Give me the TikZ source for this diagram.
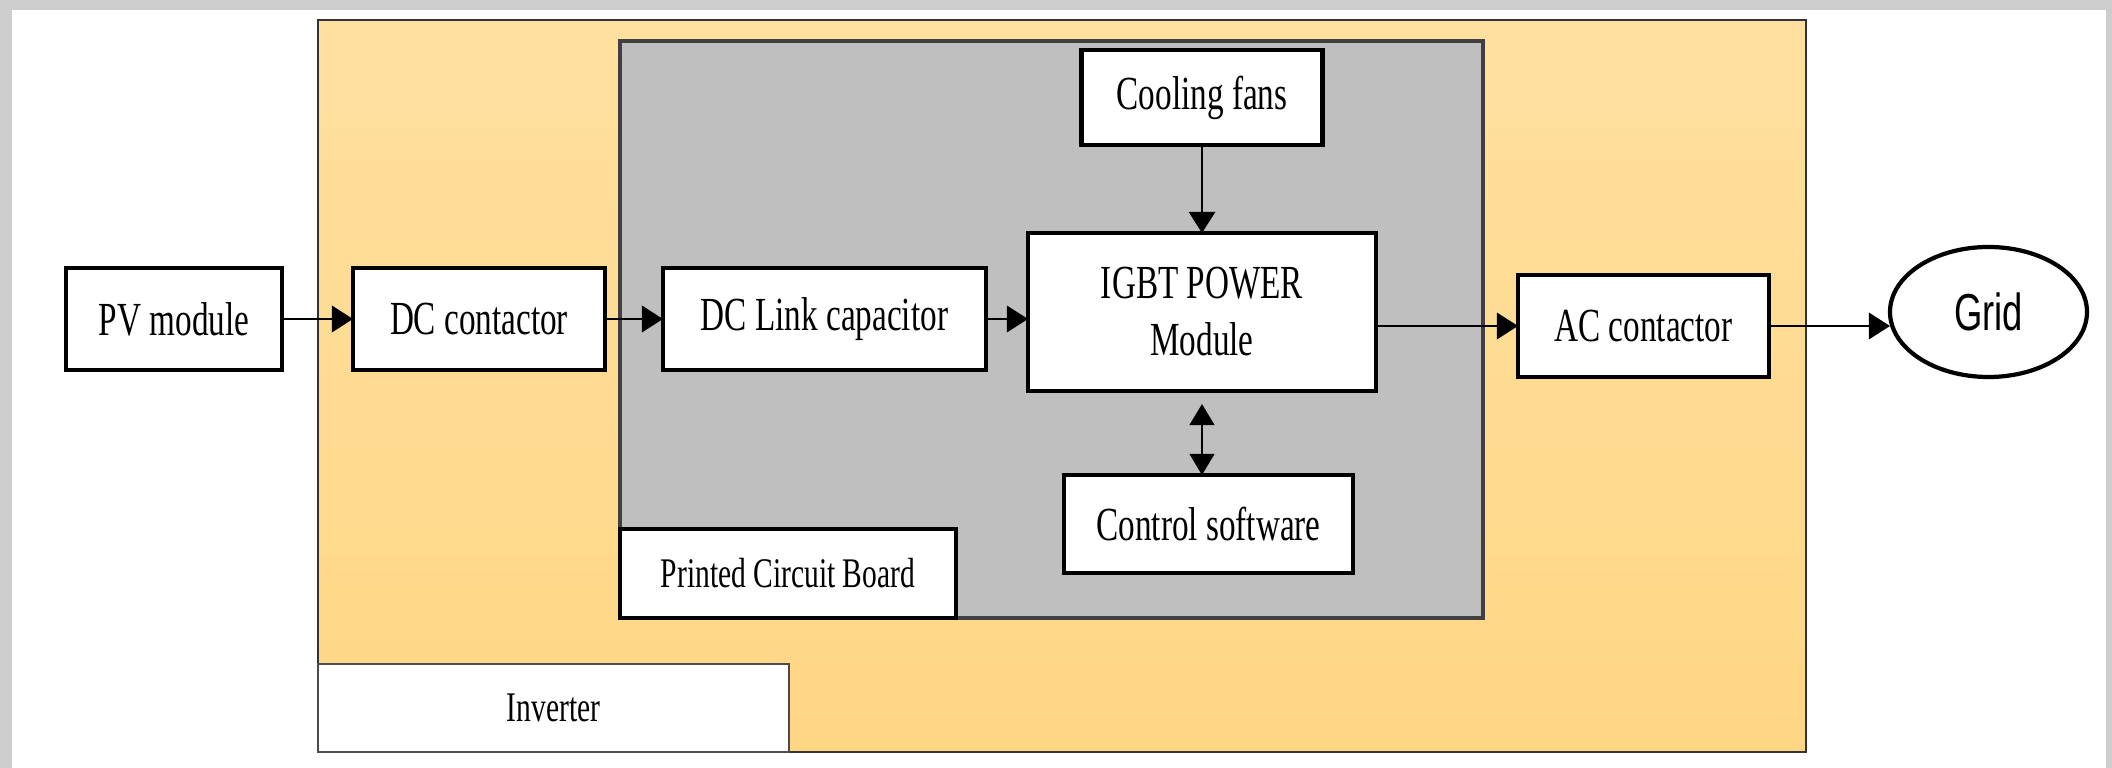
\documentclass[tikz,border=0pt]{standalone}
\usepackage{fontspec}
\setmainfont{Liberation Serif}[FakeStretch=0.7]
\newfontfamily\gridfont{Liberation Sans}[FakeStretch=0.7]
\usepackage{tikz}
\usetikzlibrary{positioning,arrows.meta,shapes.geometric}
\usepackage{xcolor}
\definecolor{invtop}{HTML}{FFE0A0}
\definecolor{invbot}{HTML}{FFD684}
\definecolor{pcbgray}{HTML}{BFBFBF}
\definecolor{framegray}{HTML}{CDCDCD}
\tikzset{
  boxnode/.style={
    rectangle, draw=black, fill=white, line width=1.4pt,
    inner sep=0pt, outer sep=0pt, minimum height=10.2mm,
    align=center, font=\fontsize{13.5}{16.2}\selectfont
  },
  gridnode/.style={
    ellipse, draw=black, fill=white, line width=1.2pt,
    minimum width=19.7mm, minimum height=13mm, inner sep=0pt, outer sep=0pt,
    font=\gridfont\fontsize{14.8}{17}\selectfont
  },
  tagnode/.style={
    rectangle, fill=white, inner sep=0pt, outer sep=0pt,
    anchor=south west, font=\fontsize{12}{14}\selectfont
  },
  arr/.style={
    -{Triangle[length=6pt,width=7.5pt]}, line width=0.7pt
  },
  arrboth/.style={
    {Triangle[length=6pt,width=7pt]}-{Triangle[length=6pt,width=7pt]}, line width=0.7pt
  }
}

\begin{document}
\begin{tikzpicture}
\useasboundingbox (0,0) rectangle (21.12,7.68);
% marco
\fill[framegray] (0,0) rectangle (21.12,7.68);
\fill[white] (0.12,0) rectangle (21.06,7.58);

% inversor y placa
\draw[top color=invtop, bottom color=invbot, draw=black!80, line width=0.7pt] (3.18,0.16) rectangle (18.06,7.48);
\draw[fill=pcbgray, draw=black!75, line width=0.9pt] (6.20,1.50) rectangle (14.83,7.27);
\node[tagnode, draw=black!70, line width=0.8pt, minimum width=47.1mm, minimum height=8.8mm] (invtag) at (3.18,0.16) {Inverter};
\node[tagnode, draw=black, line width=1.3pt, minimum width=33.6mm, minimum height=8.9mm] (pcbtag) at (6.20,1.50) {Printed Circuit Board};

% bloques
\node[boxnode, minimum width=21.6mm] (pv) at (1.74,4.49) {PV module};
\node[boxnode, minimum width=25.2mm, right=7.1mm of pv] (dcc) {DC contactor};
\node[boxnode, minimum width=32.3mm, right=5.8mm of dcc] (dcl) {DC Link capacitor};
\node[boxnode, minimum width=34.8mm, minimum height=15.8mm, right=4.2mm of dcl, yshift=0.7mm] (igbt) {IGBT POWER\\Module};
\node[boxnode, minimum width=24.1mm, minimum height=9.5mm, above=8.8mm of igbt] (fans) {Cooling fans};
\node[boxnode, minimum width=28.9mm, minimum height=9.8mm, below=8.4mm of igbt, xshift=0.65mm] (ctrl) {Control software};
\node[boxnode, minimum width=25.1mm, right=14.2mm of igbt, yshift=-1.4mm] (acc) {AC contactor};
\node[gridnode, right=12.1mm of acc, yshift=1.4mm] (grid) {Grid};

% flechas
\draw[arr] (pv) -- (dcc);
\draw[arr] (dcc) -- (dcl);
\draw[arr] (dcl.east) -- (dcl.east -| igbt.west);
\draw[arr, line width=0.6pt] (fans) -- (igbt);
\draw[arrboth, shorten <=1.3mm] (igbt.south) -- (igbt.south |- ctrl.north);
\draw[arr] (igbt.east |- acc.west) -- (acc.west);
\draw[arr] (acc.east) -- (acc.east -| grid.west);
\end{tikzpicture}
\end{document}
